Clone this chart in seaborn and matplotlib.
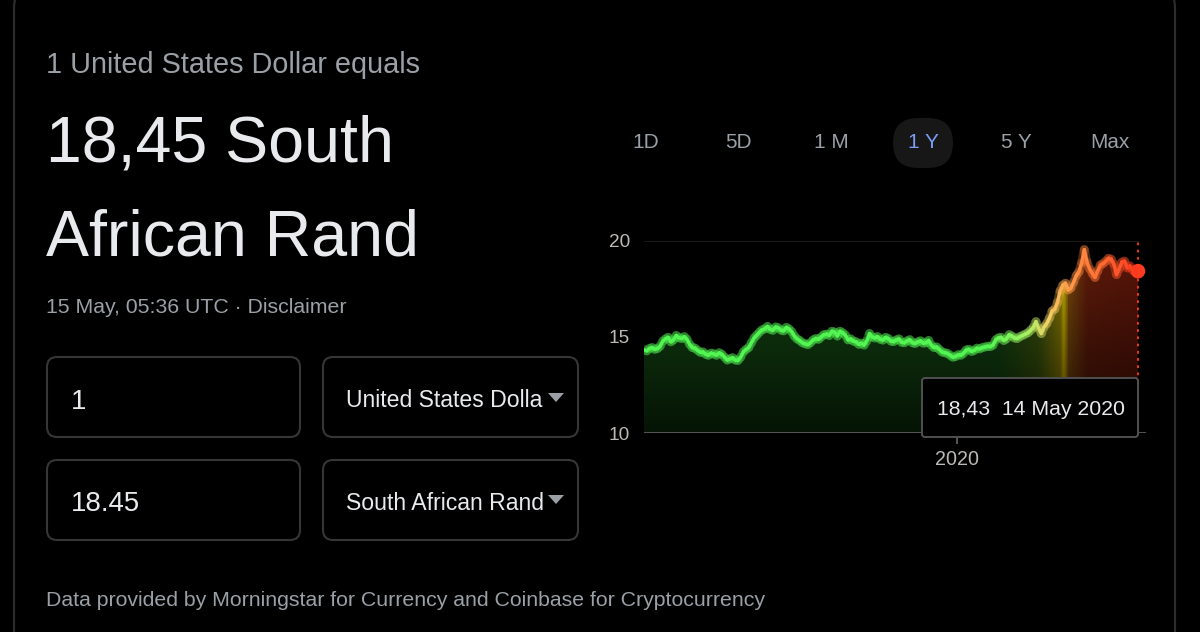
import numpy as np
import pandas as pd
import matplotlib
matplotlib.use("Agg")
import matplotlib.pyplot as plt
import matplotlib.dates as mdates
from matplotlib.patches import FancyBboxPatch, Polygon, Rectangle
from matplotlib.colors import LinearSegmentedColormap
from matplotlib import font_manager
import seaborn as sns

# DATA
start_date = "2019-05-14"
end_date = "2020-05-14"
rates = [14.33, 14.28, 14.40, 14.45, 14.36, 14.40, 14.52, 14.78, 14.90, 14.98,
         14.75, 14.85, 15.08, 14.96, 14.92, 15.02, 14.88, 14.62, 14.45, 14.42,
         14.30, 14.20, 14.22, 14.10, 14.05, 14.16, 14.12, 14.05, 14.18, 14.10,
         13.95, 13.80, 13.86, 13.92, 13.80, 13.78, 13.95, 14.22, 14.35, 14.45,
         14.70, 14.95, 15.10, 15.25, 15.38, 15.42, 15.55, 15.40, 15.35, 15.52,
         15.48, 15.36, 15.32, 15.50, 15.42, 15.28, 15.05, 14.90, 14.82, 14.70,
         14.65, 14.60, 14.70, 14.85, 14.92, 14.88, 15.00, 15.12, 15.15, 15.08,
         15.30, 15.25, 15.05, 15.30, 15.22, 15.10, 14.85, 14.90, 14.78, 14.75,
         14.62, 14.68, 14.58, 14.80, 15.18, 15.00, 14.95, 15.02, 14.88, 14.84,
         14.98, 14.92, 14.78, 14.76, 14.85, 14.90, 14.72, 14.70, 14.80, 14.86,
         14.70, 14.66, 14.75, 14.80, 14.68, 14.70, 14.82, 14.58, 14.45, 14.48,
         14.35, 14.22, 14.18, 14.15, 14.05, 13.95, 13.98, 14.08, 14.05, 14.15,
         14.32, 14.36, 14.25, 14.30, 14.42, 14.38, 14.45, 14.48, 14.52, 14.50,
         14.58, 14.85, 14.95, 14.98, 14.82, 14.90, 15.12, 15.05, 14.95, 14.92,
         15.02, 15.08, 15.15, 15.22, 15.35, 15.50, 15.80, 15.45, 15.18, 15.52,
         15.70, 15.98, 16.35, 16.45, 16.80, 17.40, 17.70, 17.80, 17.45, 17.55,
         17.85, 18.20, 18.40, 18.85, 19.55, 18.90, 18.55, 18.30, 18.10, 18.45,
         18.75, 18.82, 18.95, 19.10, 19.05, 18.80, 18.25, 18.55, 18.90, 18.95,
         18.60, 18.70, 18.48, 18.38, 18.43]
y_ticks = [10, 15, 20]
x_tick_dates = ["2020-01-01"]
x_tick_labels = ["2020"]
ranges = ["1D", "5D", "1 M", "1 Y", "5 Y", "Max"]
selected_range = "1 Y"
headline = "1 United States Dollar equals"
amount_line1 = "18,45 South"
amount_line2 = "African Rand"
stamp = "15 May, 05:36 UTC · Disclaimer"
from_amount = "1"
to_amount = "18.45"
from_currency = "United States Dolla"
to_currency = "South African Rand"
tooltip_value = "18,43"
tooltip_date = "14 May 2020"
footer = "Data provided by Morningstar for Currency and Coinbase for Cryptocurrency"

# STYLE
sns.set_style("dark", {"axes.facecolor": "black", "figure.facecolor": "black"})
names = {f.name for f in font_manager.fontManager.ttflist}
if "Liberation Sans Narrow" in names:
    plt.rcParams["font.family"] = ["Liberation Sans Narrow", "DejaVu Sans"]
    k = 1.0
else:
    plt.rcParams["font.family"] = ["Liberation Sans", "DejaVu Sans"]
    k = 0.83

GRAY = "#9aa0a6"
WHITE = "#e8eaed"
BORDER = "#363636"

dates = pd.date_range(start_date, end_date, periods=len(rates))
df = pd.DataFrame({"date": dates, "rate": rates})

fig = plt.figure(figsize=(12, 6.32), dpi=100, facecolor="black")

# ---- page / card layer (pixel coordinates)
ui = fig.add_axes([0, 0, 1, 1], zorder=0)
ui.set_xlim(0, 1200)
ui.set_ylim(632, 0)
ui.axis("off")

ui.add_patch(FancyBboxPatch((14, -14), 1161, 700, boxstyle="round,pad=0,rounding_size=22",
                            fc="black", ec="#2c2c2c", lw=1.6))

ui.text(46, 73, headline, color=GRAY, fontsize=25 * k, va="baseline")
ui.text(46, 162, amount_line1, color=WHITE, fontsize=56 * k, va="baseline")
ui.text(46, 255, amount_line2, color=WHITE, fontsize=56 * k, va="baseline")
ui.text(46, 313, stamp, color=GRAY, fontsize=18.5 * k, va="baseline")

for (bx, by, bw) in [(47, 357, 253), (323, 357, 255), (47, 460, 253), (323, 460, 255)]:
    ui.add_patch(FancyBboxPatch((bx, by), bw, 80, boxstyle="round,pad=0,rounding_size=10",
                                fc="black", ec=BORDER, lw=1.5))

ui.text(71, 409, from_amount, color=WHITE, fontsize=24 * k, va="baseline")
ui.text(71, 511, to_amount, color=WHITE, fontsize=24 * k, va="baseline")
ui.text(346, 407, from_currency, color=WHITE, fontsize=20 * k, va="baseline")
ui.text(346, 510, to_currency, color=WHITE, fontsize=20 * k, va="baseline")
for ty in [393, 495]:
    ui.add_patch(Rectangle((546, ty - 10), 20, 28, fc="black", ec="none"))
    ui.add_patch(Polygon([(548, ty), (564, ty), (556, ty + 9)], closed=True, fc=GRAY, ec="none"))

ui.text(46, 606, footer, color=GRAY, fontsize=18.5 * k, va="baseline")

tab_x = [646, 738, 831, 923, 1016, 1110]
for lbl, tx in zip(ranges, tab_x):
    if lbl == selected_range:
        ui.add_patch(FancyBboxPatch((tx - 30, 118), 60, 50, boxstyle="round,pad=0,rounding_size=25",
                                    fc="#171717", ec="none"))
        col = "#7b9cf2"
    else:
        col = GRAY
    ui.text(tx, 143, lbl, color=col, fontsize=18 * k, ha="center", va="center")

# ---- chart
ax = fig.add_axes([644 / 1200, (632 - 433) / 632, 502 / 1200, 192 / 632], zorder=1)
ax.set_facecolor("none")

x0 = mdates.date2num(dates[0])
x1 = mdates.date2num(dates[-1])

line_cmap = LinearSegmentedColormap.from_list("fx_line", [
    (0.00, "#52f552"), (0.70, "#52f552"), (0.78, "#a8f064"), (0.82, "#f2d264"),
    (0.86, "#ff9c4a"), (0.93, "#ff6a32"), (1.00, "#ff3b1f")])
fill_cmap = LinearSegmentedColormap.from_list("fx_fill", [
    (0.00, "#134613"), (0.72, "#134613"), (0.80, "#3c560c"), (0.845, "#8c7c06"),
    (0.852, "#d2bc00"), (0.862, "#7a4a0c"), (0.90, "#621c0a"), (1.00, "#5e160a")])

poly = ax.fill_between(df["date"], df["rate"], 10, facecolor="none", edgecolor="none")
cols = fill_cmap(np.linspace(0, 1, 600))[:, :3]
v = np.linspace(20, 10, 300)
g = (0.28 + 0.72 * (v - 10) / 10)[:, None, None]
img = np.clip(cols[None, :, :] * g, 0, 1)
im = ax.imshow(img, extent=(x0, x1, 10, 20), aspect="auto", origin="upper",
               interpolation="bilinear", zorder=1)
im.set_clip_path(poly.get_paths()[0], ax.transData)

rows = []
for i in range(len(df) - 1):
    rows.append((df["date"][i], df["rate"][i], f"s{i:03d}"))
    rows.append((df["date"][i + 1], df["rate"][i + 1], f"s{i:03d}"))
seg = pd.DataFrame(rows, columns=["date", "rate", "seg"])
n_seg = len(df) - 1
pal = {f"s{i:03d}": line_cmap((i + 0.5) / n_seg) for i in range(n_seg)}

sns.lineplot(data=seg, x="date", y="rate", hue="seg", palette=pal, legend=False,
             estimator=None, sort=False, lw=6.5, alpha=0.3, solid_capstyle="round", ax=ax, zorder=3)
sns.lineplot(data=seg, x="date", y="rate", hue="seg", palette=pal, legend=False,
             estimator=None, sort=False, lw=2.5, solid_capstyle="round", ax=ax, zorder=4)

ax.axhline(10, color="#5c5c5c", lw=2, zorder=2)
ax.axhline(20, xmax=494 / 502, color="#1d1d14", lw=1.2, zorder=2)
ax.axvline(dates[-1], color="#ff3b1f", lw=1.3, ls=(0, (1.5, 2.5)), zorder=3)
ax.scatter([dates[-1]], [rates[-1]], s=110, color="#ff3b1f", edgecolor="none", zorder=6, clip_on=False)

ax.set_xlim(x0, x0 + (x1 - x0) * 502 / 494)
ax.set_ylim(10, 20)
ax.set_yticks(y_ticks)
ax.set_yticklabels([str(t) for t in y_ticks])
ax.set_xticks([mdates.date2num(pd.Timestamp(d)) for d in x_tick_dates])
ax.set_xticklabels(x_tick_labels)
ax.tick_params(axis="y", length=0, pad=10, labelsize=16.5 * k, labelcolor="#bdbab6")
ax.tick_params(axis="x", length=8, width=1.3, color="#5c5c5c", pad=4, labelsize=17 * k,
               labelcolor="#bdbab6", bottom=True)
ax.set_xlabel("")
ax.set_ylabel("")
ax.grid(False)
for s in ax.spines.values():
    s.set_visible(False)

# ---- tooltip layer
top = fig.add_axes([0, 0, 1, 1], zorder=3)
top.set_xlim(0, 1200)
top.set_ylim(632, 0)
top.axis("off")
top.patch.set_alpha(0)
top.add_patch(FancyBboxPatch((922, 378), 216, 59, boxstyle="round,pad=0,rounding_size=3",
                             fc="black", ec="#505050", lw=1.4))
top.text(937, 415, f"{tooltip_value}  {tooltip_date}", color=WHITE, fontsize=18.5 * k, va="baseline")

plt.savefig("out.png", dpi=100, facecolor="black")
